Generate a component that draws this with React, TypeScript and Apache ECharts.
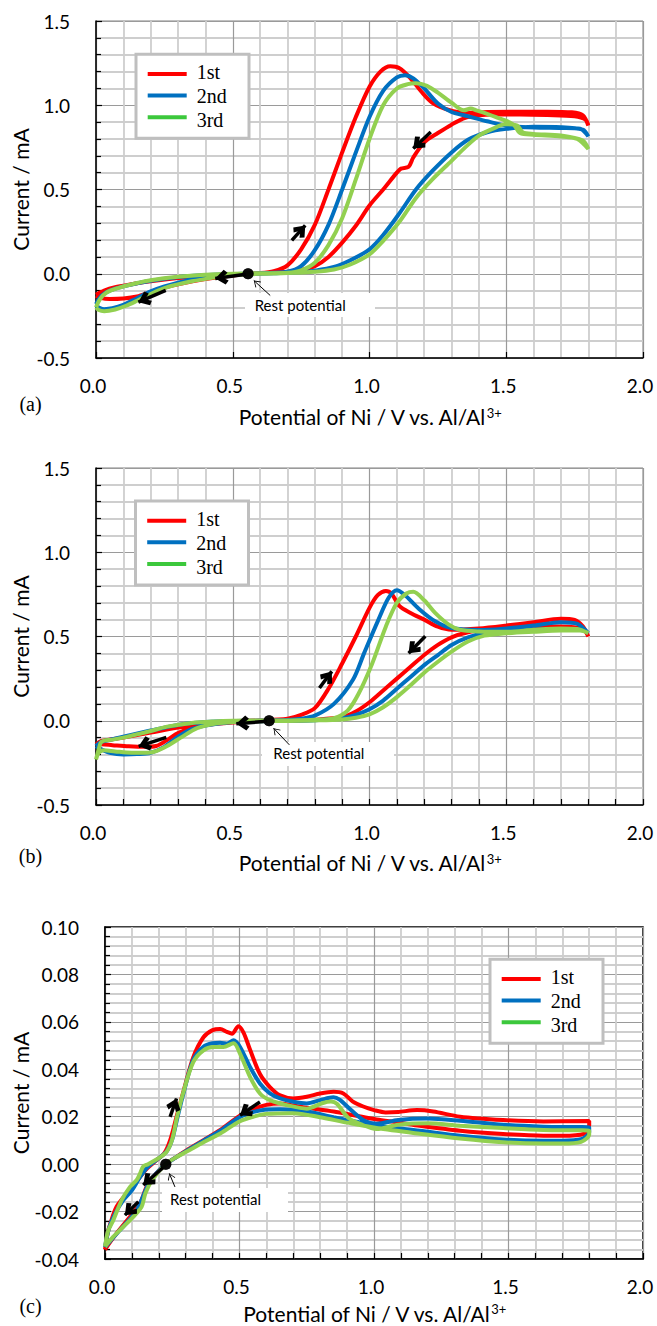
import React, { useEffect, useRef } from "react";
import * as echarts from "echarts";

const SERIES_NAMES = ["1st", "2nd", "3rd"];
const CURVE_COLORS = ["#ff0000", "#0070c0", "#92d050"];
const LEGEND_COLORS = ["#ff0000", "#0070c0", "#3cc83c"];
const PANEL_LETTERS = ["(a)", "(b)", "(c)"];
const X_TITLE = "Potential of Ni / V vs. Al/Al{sup|3+}";
const Y_TITLE = "Current / mA";
const REST_TEXT = "Rest potential";

// ---------- (a) ----------
const a1st = [
  [0.0, -0.125], [0.03, -0.1], [0.07, -0.08], [0.12, -0.065], [0.2, -0.045], [0.3, -0.026], [0.4, -0.013], [0.5, -0.004],
  [0.6, 0.004], [0.65, 0.015], [0.7, 0.05], [0.75, 0.145], [0.8, 0.29], [0.85, 0.5], [0.9, 0.72], [0.95, 0.93], [1.0, 1.11],
  [1.04, 1.2], [1.076, 1.232], [1.11, 1.22], [1.15, 1.16], [1.19, 1.08], [1.23, 1.015], [1.29, 0.972], [1.35, 0.955],
  [1.43, 0.96], [1.55, 0.962], [1.65, 0.962], [1.74, 0.958], [1.78, 0.94], [1.8, 0.88],
  [1.79, 0.915], [1.75, 0.935], [1.65, 0.942], [1.55, 0.945], [1.45, 0.945], [1.4, 0.94], [1.35, 0.925], [1.3, 0.885],
  [1.25, 0.835], [1.2, 0.78], [1.16, 0.69], [1.143, 0.635], [1.115, 0.624], [1.1, 0.6], [1.05, 0.5], [1.0, 0.405],
  [0.95, 0.285], [0.9, 0.185], [0.85, 0.1], [0.8, 0.045], [0.75, 0.022], [0.7, 0.012], [0.6, 0.003], [0.5, -0.01],
  [0.4, -0.032], [0.3, -0.062], [0.25, -0.083], [0.2, -0.108], [0.15, -0.135], [0.1, -0.147], [0.05, -0.15],
  [0.02, -0.145], [0.0, -0.13],
];
const a2nd = [
  [0.0, -0.18], [0.02, -0.13], [0.05, -0.1], [0.1, -0.075], [0.2, -0.042], [0.3, -0.02], [0.4, -0.008], [0.5, -0.002],
  [0.6, 0.003], [0.7, 0.012], [0.75, 0.045], [0.8, 0.14], [0.85, 0.29], [0.9, 0.5], [0.95, 0.72], [1.0, 0.93],
  [1.05, 1.085], [1.1, 1.165], [1.13, 1.178], [1.16, 1.16], [1.2, 1.1], [1.25, 1.01], [1.3, 0.96], [1.36, 0.935],
  [1.43, 0.905], [1.5, 0.88], [1.6, 0.868], [1.7, 0.865], [1.77, 0.86], [1.8, 0.815],
  [1.78, 0.855], [1.7, 0.87], [1.6, 0.872], [1.5, 0.86], [1.43, 0.84], [1.36, 0.795], [1.3, 0.72], [1.23, 0.61],
  [1.17, 0.5], [1.11, 0.36], [1.05, 0.23], [1.0, 0.145], [0.93, 0.08], [0.87, 0.04], [0.8, 0.018], [0.75, 0.01],
  [0.65, 0.003], [0.55, -0.003], [0.45, -0.012], [0.35, -0.035], [0.25, -0.075], [0.2, -0.105], [0.15, -0.145],
  [0.1, -0.185], [0.06, -0.205], [0.03, -0.21], [0.01, -0.2], [0.0, -0.19],
];
const a3rd = [
  [0.0, -0.2], [0.015, -0.15], [0.04, -0.11], [0.08, -0.085], [0.15, -0.055], [0.2, -0.038], [0.3, -0.018], [0.4, -0.006],
  [0.5, 0.0], [0.6, 0.003], [0.7, 0.006], [0.75, 0.02], [0.8, 0.065], [0.85, 0.17], [0.9, 0.33], [0.95, 0.56], [1.0, 0.8],
  [1.05, 1.0], [1.1, 1.1], [1.14, 1.125], [1.17, 1.13], [1.21, 1.115], [1.25, 1.075], [1.3, 1.015], [1.345, 0.97],
  [1.37, 0.98], [1.39, 0.97], [1.42, 0.955], [1.47, 0.925], [1.51, 0.9], [1.53, 0.88], [1.55, 0.835], [1.6, 0.825],
  [1.7, 0.815], [1.76, 0.8], [1.8, 0.74],
  [1.78, 0.79], [1.7, 0.82], [1.6, 0.83], [1.56, 0.84], [1.54, 0.88], [1.5, 0.888], [1.45, 0.86], [1.4, 0.82],
  [1.35, 0.75], [1.3, 0.67], [1.23, 0.56], [1.17, 0.45], [1.11, 0.31], [1.05, 0.195], [1.0, 0.115], [0.93, 0.055],
  [0.87, 0.025], [0.8, 0.012], [0.7, 0.004], [0.6, 0.0], [0.5, -0.008], [0.45, -0.018], [0.35, -0.045], [0.25, -0.085],
  [0.2, -0.12], [0.15, -0.16], [0.11, -0.19], [0.07, -0.212], [0.03, -0.222], [0.01, -0.215], [0.0, -0.2],
];

// ---------- (b) ----------
const b1st = [
  [0.0, -0.14], [0.02, -0.12], [0.06, -0.11], [0.1, -0.1], [0.2, -0.07], [0.3, -0.04], [0.4, -0.015], [0.5, -0.003],
  [0.6, 0.002], [0.7, 0.012], [0.75, 0.035], [0.8, 0.075], [0.85, 0.19], [0.9, 0.34], [0.95, 0.5], [1.0, 0.67],
  [1.03, 0.745], [1.06, 0.77], [1.08, 0.755], [1.11, 0.68], [1.15, 0.64], [1.2, 0.6], [1.25, 0.558], [1.3, 0.54],
  [1.4, 0.548], [1.5, 0.565], [1.6, 0.585], [1.7, 0.605], [1.75, 0.598], [1.78, 0.56], [1.8, 0.5],
  [1.78, 0.545], [1.7, 0.56], [1.6, 0.56], [1.5, 0.55], [1.42, 0.54], [1.36, 0.525], [1.3, 0.495], [1.25, 0.45],
  [1.2, 0.39], [1.15, 0.32], [1.1, 0.25], [1.05, 0.18], [1.0, 0.11], [0.95, 0.055], [0.9, 0.022], [0.8, 0.006],
  [0.7, 0.0], [0.6, -0.002], [0.5, -0.01], [0.4, -0.025], [0.35, -0.045], [0.3, -0.073], [0.26, -0.115], [0.22, -0.15],
  [0.18, -0.155], [0.12, -0.152], [0.06, -0.145], [0.02, -0.14], [0.0, -0.145],
];
const b2nd = [
  [0.0, -0.15], [0.02, -0.125], [0.06, -0.11], [0.1, -0.095], [0.2, -0.058], [0.3, -0.025], [0.4, -0.008], [0.5, -0.001],
  [0.6, 0.001], [0.7, 0.004], [0.75, 0.012], [0.8, 0.03], [0.87, 0.1], [0.94, 0.245], [0.98, 0.4], [1.03, 0.59],
  [1.07, 0.73], [1.1, 0.775], [1.13, 0.745], [1.18, 0.665], [1.24, 0.59], [1.3, 0.55], [1.4, 0.538], [1.5, 0.548],
  [1.6, 0.565], [1.7, 0.585], [1.76, 0.575], [1.8, 0.52],
  [1.78, 0.54], [1.7, 0.545], [1.6, 0.54], [1.5, 0.532], [1.42, 0.52], [1.36, 0.495], [1.3, 0.45], [1.25, 0.39],
  [1.2, 0.33], [1.15, 0.26], [1.1, 0.19], [1.05, 0.12], [1.0, 0.068], [0.95, 0.035], [0.9, 0.015], [0.8, 0.003],
  [0.7, -0.001], [0.6, -0.003], [0.5, -0.008], [0.4, -0.028], [0.35, -0.05], [0.3, -0.095], [0.25, -0.155],
  [0.2, -0.19], [0.15, -0.198], [0.1, -0.2], [0.05, -0.19], [0.02, -0.17], [0.0, -0.15],
];
const b3rd = [
  [0.0, -0.23], [0.01, -0.17], [0.02, -0.125], [0.06, -0.112], [0.1, -0.1], [0.19, -0.065], [0.26, -0.035], [0.35, -0.013],
  [0.43, -0.004], [0.5, 0.0], [0.6, 0.001], [0.7, 0.002], [0.8, 0.006], [0.87, 0.016], [0.92, 0.06], [0.96, 0.16],
  [1.01, 0.34], [1.06, 0.56], [1.1, 0.7], [1.135, 0.755], [1.16, 0.765], [1.2, 0.715], [1.24, 0.64], [1.29, 0.57],
  [1.33, 0.54], [1.4, 0.53], [1.5, 0.528], [1.6, 0.54], [1.7, 0.548], [1.76, 0.545], [1.8, 0.52],
  [1.77, 0.535], [1.7, 0.535], [1.6, 0.528], [1.49, 0.518], [1.42, 0.505], [1.36, 0.47], [1.3, 0.41], [1.25, 0.35],
  [1.2, 0.285], [1.15, 0.21], [1.1, 0.14], [1.05, 0.08], [1.0, 0.038], [0.95, 0.018], [0.9, 0.008], [0.8, 0.002],
  [0.7, -0.001], [0.55, -0.004], [0.45, -0.014], [0.37, -0.044], [0.31, -0.1], [0.26, -0.15], [0.2, -0.188],
  [0.13, -0.19], [0.07, -0.182], [0.03, -0.175], [0.01, -0.19], [0.0, -0.23],
];

// ---------- (c) ----------
const c1st = [
  [0.0, -0.036], [0.01, -0.029], [0.02, -0.025], [0.043, -0.018], [0.08, -0.0125], [0.112, -0.008], [0.155, -0.002],
  [0.19, 0.0015], [0.22, 0.0045], [0.242, 0.01], [0.266, 0.02], [0.29, 0.03], [0.328, 0.045], [0.366, 0.0535],
  [0.4, 0.0565], [0.428, 0.057], [0.453, 0.0558], [0.472, 0.055], [0.496, 0.0582], [0.515, 0.0555], [0.54, 0.048],
  [0.576, 0.038], [0.613, 0.0325], [0.651, 0.029], [0.7, 0.0277], [0.75, 0.0284], [0.8, 0.0298], [0.85, 0.0305],
  [0.886, 0.0298], [0.92, 0.0265], [0.96, 0.0243], [1.0, 0.0228], [1.043, 0.0218], [1.09, 0.022], [1.16, 0.0228],
  [1.22, 0.0222], [1.32, 0.02], [1.48, 0.0186], [1.63, 0.018], [1.8, 0.0182],
  [1.8, 0.0165], [1.78, 0.0128], [1.7, 0.012], [1.63, 0.012], [1.48, 0.0127], [1.32, 0.0141], [1.17, 0.0162],
  [1.09, 0.0176], [1.01, 0.0188], [0.93, 0.0205], [0.85, 0.0222], [0.75, 0.0238], [0.7, 0.0247], [0.65, 0.0256],
  [0.6, 0.025], [0.551, 0.0232], [0.5, 0.0203], [0.43, 0.0145], [0.366, 0.0101], [0.304, 0.0059], [0.266, 0.0031],
  [0.226, 0.0], [0.19, -0.004], [0.157, -0.009], [0.13, -0.0166], [0.093, -0.0222], [0.043, -0.0292], [0.0, -0.036],
];
const c2nd = [
  [0.0, -0.035], [0.015, -0.027], [0.037, -0.021], [0.068, -0.0152], [0.1, -0.011], [0.13, -0.0055], [0.16, -0.001],
  [0.2, 0.0025], [0.23, 0.0055], [0.25, 0.0105], [0.27, 0.02], [0.292, 0.03], [0.328, 0.044], [0.366, 0.0495],
  [0.4, 0.051], [0.428, 0.0512], [0.453, 0.0508], [0.478, 0.0522], [0.502, 0.0494], [0.539, 0.041], [0.576, 0.034],
  [0.613, 0.0298], [0.651, 0.0277], [0.7, 0.0263], [0.75, 0.0256], [0.8, 0.027], [0.849, 0.0282], [0.872, 0.0272],
  [0.918, 0.0225], [0.965, 0.0183], [1.01, 0.017], [1.09, 0.0186], [1.2, 0.0192], [1.32, 0.0183], [1.48, 0.0166],
  [1.63, 0.0158], [1.8, 0.0155],
  [1.8, 0.0135], [1.77, 0.0105], [1.7, 0.0099], [1.63, 0.0099], [1.48, 0.0104], [1.32, 0.012], [1.17, 0.0141],
  [1.01, 0.0162], [0.93, 0.018], [0.85, 0.0198], [0.75, 0.0222], [0.65, 0.0232], [0.6, 0.023], [0.551, 0.022],
  [0.5, 0.0198], [0.43, 0.0142], [0.366, 0.0099], [0.304, 0.0057], [0.266, 0.003], [0.226, 0.0], [0.19, -0.004],
  [0.165, -0.0075], [0.14, -0.014], [0.12, -0.019], [0.09, -0.0235], [0.05, -0.0285], [0.0, -0.035],
];
const c3rd = [
  [0.0, -0.0348], [0.012, -0.028], [0.031, -0.0236], [0.062, -0.0152], [0.093, -0.0096], [0.118, -0.0067],
  [0.13, -0.004], [0.142, -0.001], [0.16, 0.0], [0.198, 0.0024], [0.229, 0.0052], [0.25, 0.0105], [0.268, 0.02],
  [0.29, 0.0298], [0.328, 0.043], [0.366, 0.048], [0.403, 0.0494], [0.44, 0.0494], [0.478, 0.051], [0.502, 0.0466],
  [0.539, 0.0368], [0.576, 0.0298], [0.613, 0.027], [0.675, 0.0249], [0.75, 0.0234], [0.81, 0.0258], [0.84, 0.0264],
  [0.862, 0.0255], [0.903, 0.0197], [0.95, 0.0169], [1.01, 0.0148], [1.09, 0.0166], [1.2, 0.0172], [1.32, 0.0162],
  [1.48, 0.0152], [1.63, 0.0144], [1.8, 0.0141],
  [1.8, 0.0125], [1.77, 0.0094], [1.7, 0.0087], [1.63, 0.0087], [1.48, 0.0092], [1.32, 0.0108], [1.17, 0.0128],
  [1.01, 0.0152], [0.9, 0.0175], [0.8, 0.0198], [0.7, 0.0215], [0.6, 0.0212], [0.551, 0.02], [0.5, 0.018],
  [0.43, 0.013], [0.366, 0.0092], [0.304, 0.0053], [0.266, 0.003], [0.226, 0.0], [0.175, -0.0067], [0.15, -0.0124],
  [0.136, -0.018], [0.105, -0.0222], [0.068, -0.0264], [0.031, -0.0306], [0.0, -0.0348],
];

// rest potentials and arrows (data coordinates)
const restA = [0.556, 0];
const restB = [0.633, 0];
const restC = [0.226, 0];
const arrowsA = [
  [[0.548, -0.003], [0.436, -0.028]],
  [[0.255, -0.099], [0.155, -0.169]],
  [[0.716, 0.198], [0.765, 0.287]],
  [[1.224, 0.841], [1.16, 0.743]],
];
const arrowsB = [
  [[0.625, -0.003], [0.513, -0.018]],
  [[0.257, -0.099], [0.156, -0.152]],
  [[0.817, 0.194], [0.862, 0.293]],
  [[1.204, 0.501], [1.143, 0.401]],
];
const arrowsC = [
  [[0.215, -0.0015], [0.142, -0.0088]],
  [[0.124, -0.0159], [0.074, -0.0215]],
  [[0.242, 0.0199], [0.266, 0.0277]],
  [[0.576, 0.0262], [0.502, 0.0206]],
];
const pointerA = [[0.637, -0.129], [0.577, -0.04]];
const pointerB = [[0.707, -0.143], [0.649, -0.044]];
const pointerC = [[0.26, -0.0096], [0.239, -0.0039]];

const FONT = "Lato, 'Open Sans', sans-serif";
const SERIF = "'Liberation Serif', 'Times New Roman', serif";

const GRIDS = [
  { left: 96, top: 21, width: 547, height: 337 },
  { left: 96, top: 468, width: 547, height: 337 },
  { left: 105, top: 927, width: 538, height: 332 },
];

const CHEVRON = "path://M5,0L10,6L7.6,8.2L5,4.6L2.4,8.2L0,6Z M5,-8.2L5.01,-8.2L5,-8.19Z";
const THIN_HEAD = "path://M5,0L10,7L9.2,7.8L5,1.6L0.8,7.8L0,7Z M5,-7.8L5.01,-7.8L5,-7.79Z";

const PANELS = [
  {
    curves: [a1st, a2nd, a3rd], rest: restA, arrows: arrowsA, pointer: pointerA,
    yMin: -0.5, yMax: 1.5, yInt: 0.5, dec: 1,
    letterY: 404, xTitle: [369.5, 416.5], yTitle: [20, 189.5], legend: [136, 54.3],
    restBox: { x: 245, y: 293, w: 130, h: 24, tx: 254.7, ty: 305 }, xMinor: false,
  },
  {
    curves: [b1st, b2nd, b3rd], rest: restB, arrows: arrowsB, pointer: pointerB,
    yMin: -0.5, yMax: 1.5, yInt: 0.5, dec: 1,
    letterY: 856, xTitle: [369.5, 862.5], yTitle: [20, 636.5], legend: [135.5, 501],
    restBox: { x: 262, y: 742, w: 132, h: 24, tx: 273.3, ty: 753.3 }, xMinor: true,
  },
  {
    curves: [c1st, c2nd, c3rd], rest: restC, arrows: arrowsC, pointer: pointerC,
    yMin: -0.04, yMax: 0.1, yInt: 0.02, dec: 2,
    letterY: 1306, xTitle: [374, 1313], yTitle: [20, 1093], legend: [490, 959.3],
    restBox: { x: 162, y: 1188, w: 126, h: 24, tx: 170, ty: 1199.3 }, xMinor: true,
  },
];

function buildOption() {
  const grid = GRIDS.map((g, i) => ({
    ...g,
    show: true,
    borderColor: i === 2 ? "#000" : "#808080",
    borderWidth: i === 2 ? 1.5 : 1,
    backgroundColor: "transparent",
  }));
  const xAxis = PANELS.map((p, i) => ({
    type: "value", gridIndex: i, min: 0, max: 2, interval: 0.5,
    axisLine: { show: true, onZero: false, lineStyle: { color: "#000", width: 1.5 } },
    axisTick: { show: true, inside: true, length: 6, lineStyle: { color: "#000", width: 1.2 } },
    minorTick: { show: p.xMinor, splitNumber: 5, length: 6, lineStyle: { color: "#000", width: 1.2 } },
    splitLine: { show: true, lineStyle: { color: "#9a9a9a", width: 1.2 } },
    minorSplitLine: { show: true, lineStyle: { color: "#cecece", width: 1.8 } },
    axisLabel: {
      color: "#000", fontFamily: FONT, fontSize: 19, margin: 18, padding: [0, 6, 0, 0],
      formatter: (v: number) => v.toFixed(1),
    },
  }));
  const yAxis = PANELS.map((p, i) => ({
    type: "value", gridIndex: i, min: p.yMin, max: p.yMax, interval: p.yInt,
    axisLine: { show: true, onZero: false, lineStyle: { color: "#000", width: 1.5 } },
    axisTick: { show: true, inside: true, length: 6, lineStyle: { color: "#000", width: 1.2 } },
    minorTick: { show: true, splitNumber: 5, length: 5, lineStyle: { color: "#000", width: 1.2 } },
    splitLine: { show: true, lineStyle: { color: "#9a9a9a", width: 1.2 } },
    minorSplitLine: { show: true, lineStyle: { color: "#cecece", width: 1.8 } },
    axisLabel: {
      color: "#000", fontFamily: FONT, fontSize: 19, margin: 26,
      formatter: (v: number) => v.toFixed(p.dec),
    },
  }));

  const series: any[] = [];
  PANELS.forEach((p, i) => {
    p.curves.forEach((data, k) => {
      series.push({
        type: "line", name: SERIES_NAMES[k], xAxisIndex: i, yAxisIndex: i, data,
        showSymbol: false, symbol: "none", smooth: 0.3, z: 2 + k * 0.1,
        lineStyle: { color: CURVE_COLORS[k], width: 4 }, itemStyle: { color: CURVE_COLORS[k] },
        silent: true,
      });
    });
    series.push({
      type: "scatter", name: "rest" + i, xAxisIndex: i, yAxisIndex: i, data: [p.rest],
      symbolSize: 11, itemStyle: { color: "#000" }, z: 5, silent: true,
      markLine: {
        silent: true, symbol: ["none", CHEVRON], symbolSize: [15, 26],
        label: { show: false }, emphasis: { disabled: true },
        lineStyle: { color: "#000", width: 3.5, type: "solid" },
        data: p.arrows.map(([s, e]) => [{ coord: s }, { coord: e }]),
      },
    });
    series.push({
      type: "scatter", name: "pointer" + i, xAxisIndex: i, yAxisIndex: i, data: [p.rest],
      symbolSize: 11, itemStyle: { color: "#000" }, z: 5, silent: true,
      markLine: {
        silent: true, symbol: ["none", THIN_HEAD], symbolSize: [8, 13],
        label: { show: false }, emphasis: { disabled: true },
        lineStyle: { color: "#000", width: 1, type: "solid" },
        data: [[{ coord: p.pointer[0] }, { coord: p.pointer[1] }]],
      },
    });
  });

  const graphic: any[] = [];
  PANELS.forEach((p, i) => {
    graphic.push({
      type: "text", x: p.yTitle[0], y: p.yTitle[1], rotation: Math.PI / 2, z: 100,
      style: { text: Y_TITLE, fontFamily: FONT, fontSize: 21, fill: "#000", align: "center", verticalAlign: "middle" },
    });
    graphic.push({
      type: "text", x: p.xTitle[0], y: p.xTitle[1], z: 100,
      style: {
        text: X_TITLE, fontFamily: FONT, fontSize: 21, fill: "#000", align: "center", verticalAlign: "middle",
        rich: { sup: { fontFamily: FONT, fontSize: 13, fill: "#000", verticalAlign: "top", lineHeight: 12 } },
      },
    });
    graphic.push({
      type: "text", x: 30.5, y: p.letterY, z: 100,
      style: { text: PANEL_LETTERS[i], fontFamily: SERIF, fontSize: 20, fill: "#000", align: "center", verticalAlign: "middle" },
    });
    const [lx, ly] = p.legend;
    graphic.push({
      type: "rect", z: 50, shape: { x: lx, y: ly, width: 113, height: 84 },
      style: { fill: "#fff", stroke: "#bfbfbf", lineWidth: 3 },
    });
    const lineRows = [19.7, 41.2, 63.0];
    const textRows = [17.5, 42.0, 66.0];
    SERIES_NAMES.forEach((nm, k) => {
      graphic.push({
        type: "line", z: 51,
        shape: { x1: lx + 11.7, y1: ly + lineRows[k], x2: lx + 50.7, y2: ly + lineRows[k] },
        style: { stroke: LEGEND_COLORS[k], lineWidth: 4 },
      });
      graphic.push({
        type: "text", x: lx + 60.7, y: ly + textRows[k], z: 51,
        style: { text: nm, fontFamily: SERIF, fontSize: 20, fill: "#000", align: "left", verticalAlign: "middle" },
      });
    });
    const rb = p.restBox;
    graphic.push({
      type: "rect", z: 1, shape: { x: rb.x, y: rb.y, width: rb.w, height: rb.h },
      style: { fill: "#fff", stroke: "none" },
    });
    graphic.push({
      type: "text", x: rb.tx, y: rb.ty, z: 100,
      style: { text: REST_TEXT, fontFamily: FONT, fontSize: 15, fill: "#000", align: "left", verticalAlign: "middle" },
    });
  });

  return {
    animation: false,
    backgroundColor: "#ffffff",
    grid, xAxis, yAxis, series, graphic,
  };
}

export default function App() {
  const ref = useRef<HTMLDivElement>(null);
  useEffect(() => {
    if (!ref.current) return;
    const chart = echarts.init(ref.current, undefined, { renderer: "svg" });
    chart.setOption(buildOption() as any);
    return () => chart.dispose();
  }, []);
  return (
    <div
      ref={ref}
      style={{ position: "absolute", left: 0, top: 0, width: 657, height: 1326, background: "#fff" }}
    />
  );
}
